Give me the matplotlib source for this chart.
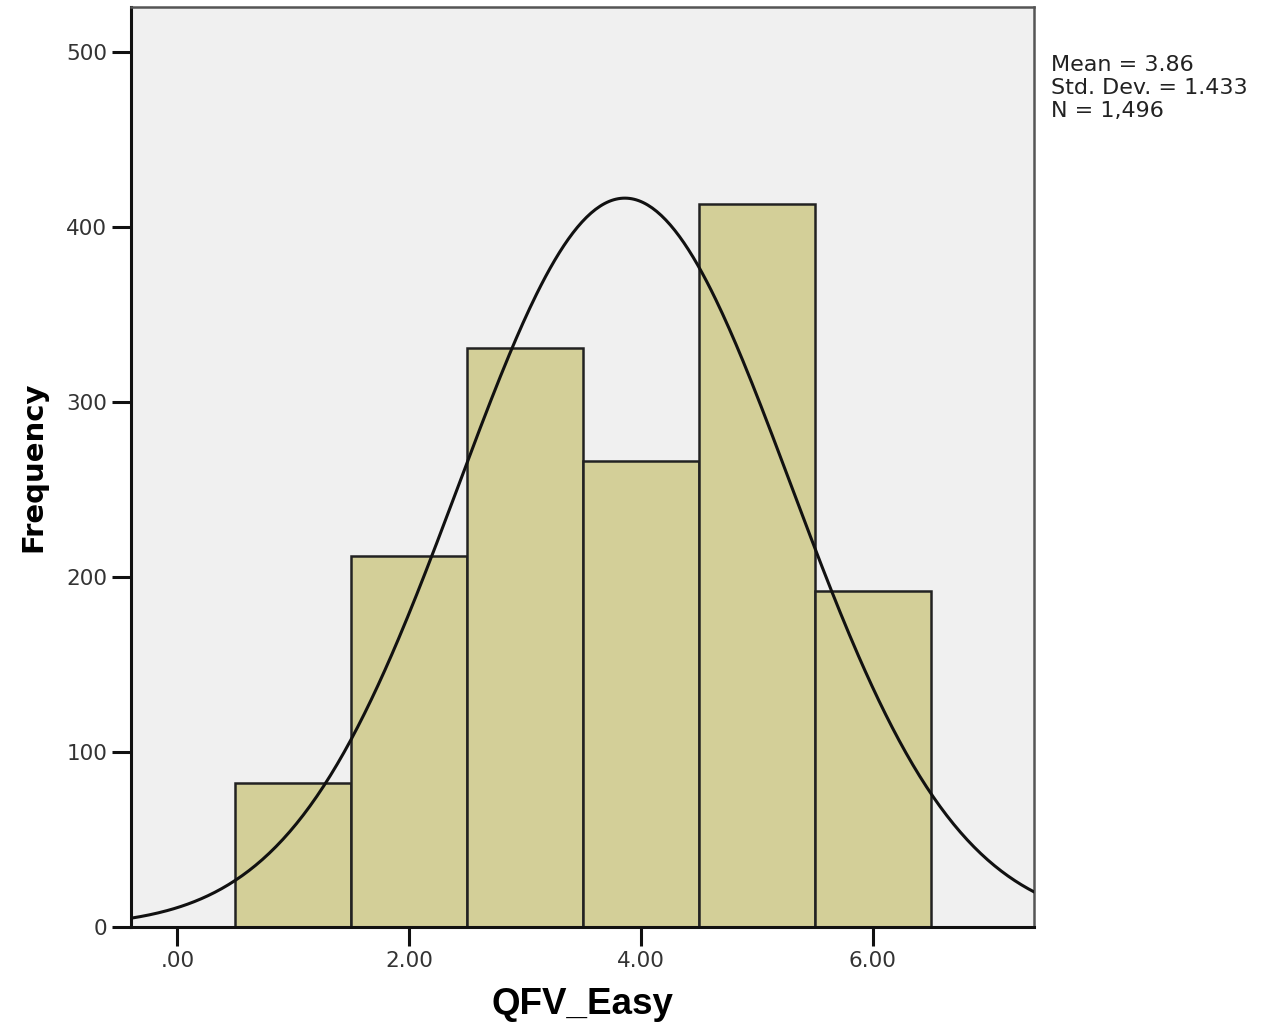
import numpy as np
import matplotlib
matplotlib.use("Agg")
import matplotlib.pyplot as plt

# histogram of QFV_Easy (bin centres and counts)
bin_centres = [1, 2, 3, 4, 5, 6]
counts = [82, 212, 331, 266, 413, 192]
mean = 3.86
std = 1.433
n_total = 1496

bar_color = "#D3CF98"
bg_color = "#F0F0F0"

fig = plt.figure(figsize=(12.68, 10.31), dpi=100)
ax = fig.add_axes([0.1033, 0.1009, 0.7122, 0.8923])
ax.set_facecolor(bg_color)

ax.bar(bin_centres, counts, width=1.0, color=bar_color, edgecolor="#222222",
       linewidth=1.8, zorder=2)

# normal curve scaled to counts (bin width 1)
xs = np.linspace(-0.4, 7.4, 400)
pdf = n_total * 1.0 / (std * np.sqrt(2 * np.pi)) * np.exp(-0.5 * ((xs - mean) / std) ** 2)
ax.plot(xs, pdf, color="#111111", linewidth=2.2, zorder=3)

ax.set_xlim(-0.4, 7.39)
ax.set_ylim(0, 525.7)
ax.set_xticks([0, 2, 4, 6])
ax.set_xticklabels([".00", "2.00", "4.00", "6.00"])
ax.set_yticks([0, 100, 200, 300, 400, 500])

ax.tick_params(axis="both", direction="out", length=14, width=2.2, color="#111111",
               labelsize=15.5, labelcolor="#333333", pad=3)
for side in ["left", "bottom"]:
    ax.spines[side].set_color("#111111")
    ax.spines[side].set_linewidth(2.2)
for side in ["top", "right"]:
    ax.spines[side].set_color("#555555")
    ax.spines[side].set_linewidth(1.8)

ax.set_ylabel("Frequency", fontsize=21, fontweight="bold", family="DejaVu Sans",
              labelpad=14)
ax.set_xlabel("QFV_Easy", fontsize=26.5, fontweight="bold", family="Liberation Sans",
              labelpad=12)

fig.text(0.829, 0.947, "Mean = %.2f\nStd. Dev. = %.3f\nN = 1,496" % (mean, std),
         fontsize=16, color="#222222", va="top", ha="left", linespacing=1.2)

fig.savefig("out.png", dpi=100, facecolor="white")
